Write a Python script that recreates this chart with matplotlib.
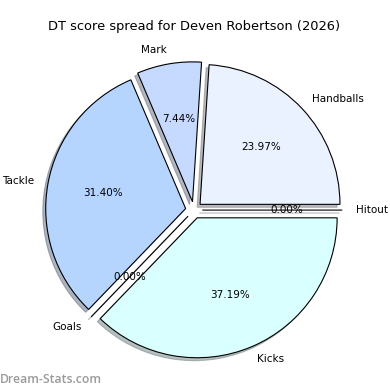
import matplotlib
matplotlib.use('Agg')
import matplotlib.pyplot as plt

# DT points by source (percentages, total 121)
categories = ['Hitout', 'Handballs', 'Mark', 'Tackle', 'Goals', 'Kicks']
points = [0, 29, 9, 38, 0, 45]
colors = ['#d8e8ff', '#eaf1ff', '#c6d9ff', '#b5d5ff', '#cfe6ff', '#d9ffff']


def score_pie(outfile):
    fig = plt.figure(figsize=(3.9, 3.9), dpi=100)
    ax = fig.add_axes([0.0487, 0.0128, 0.897, 0.897])

    ax.pie(points, labels=categories, colors=colors, autopct='%1.2f%%',
           explode=[0.06] * len(points), startangle=0,
           shadow={'ox': -0.015, 'oy': -0.015, 'shade': 0.5},
           wedgeprops={'edgecolor': 'black', 'linewidth': 0.8},
           textprops={'fontsize': 7.5})
    ax.set_title('DT score spread for Deven Robertson (2026)', fontsize=9.4, pad=4)

    fig.text(0.0, 0.01, 'Dream-Stats.com', fontsize=8.8, color='#9a9a9a',
             family='Open Sans', fontweight='semibold', ha='left', va='bottom')

    plt.savefig(outfile)


if __name__ == '__main__':
    score_pie('out.png')
